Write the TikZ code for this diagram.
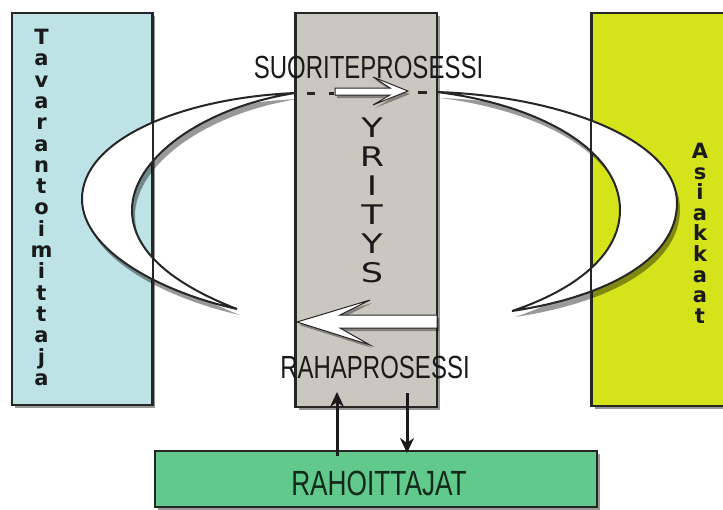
\documentclass[tikz,border=0pt]{standalone}
\usepackage{fontspec}
\setmainfont{Liberation Sans}
\newfontfamily\condfont[FakeStretch=0.75]{Liberation Sans}
\newfontfamily\vfont{DejaVu Sans Bold}
\newfontfamily\widefont[FakeStretch=1.3]{DejaVu Sans}
\usetikzlibrary{shadows,arrows.meta}

\definecolor{supcyan}{HTML}{BEE3E6}
\definecolor{compgray}{HTML}{C9C7C0}
\definecolor{custyel}{HTML}{D5E31B}
\definecolor{fingreen}{HTML}{62C98D}
\definecolor{edgedark}{HTML}{262626}
\definecolor{textdark}{HTML}{1A1A1A}
\definecolor{fintext}{HTML}{132A1A}

\begin{document}
\begin{tikzpicture}[x=1pt,y=-1pt,
  panel/.style={draw=edgedark, line width=1.6pt, inner sep=0pt,
    drop shadow={shadow xshift=3pt, shadow yshift=-3pt, opacity=0.4, fill=black}},
  paneledge/.style={draw=edgedark, line width=1.6pt},
  crescent/.style={fill=white, draw=edgedark, line width=2pt,
    drop shadow={shadow xshift=3pt, shadow yshift=-6pt, opacity=0.4, fill=black}},
  whitearrow/.style={fill=white, draw=edgedark, line width=1pt, line join=miter,
    drop shadow={shadow xshift=2pt, shadow yshift=-3pt, opacity=0.35, fill=black}},
  proclabel/.style={font=\condfont\fontsize{32}{32}\selectfont, inner sep=0pt, anchor=base, text=textdark},
  vtext/.style={font=\vfont\fontsize{21}{21.3}\selectfont, align=center, inner sep=0pt, anchor=north, text=textdark},
  flow/.style={draw=textdark, line width=3pt, -{Stealth[length=15pt,width=14pt]}},
  dashline/.style={draw=edgedark, line width=3pt}
]
\useasboundingbox (0,0) rectangle (723,509);

% boxes
\node[panel, fill=supcyan, minimum width=140pt, minimum height=392pt] (sup) at (82,209) {};
\node[panel, fill=compgray, minimum width=141pt, minimum height=394pt] (comp) at (366.5,210) {};
\node[panel, fill=custyel, minimum width=140pt, minimum height=393pt] (cust) at (662,209.5) {};
\node[panel, fill=fingreen, minimum width=442pt, minimum height=56pt] (fin) at (376,479) {};

% crescents
\path[crescent] (295,93) .. controls (180,98) and (82,140) .. (82,199)
  .. controls (82,250) and (160,292) .. (237,309)
  .. controls (175,285) and (132,252) .. (132,210)
  .. controls (132,160) and (200,108) .. (295,93) -- cycle;
\path[crescent] (437,92) .. controls (560,96) and (677,140) .. (677,203)
  .. controls (677,262) and (600,298) .. (512,311)
  .. controls (575,290) and (620,255) .. (620,210)
  .. controls (620,150) and (540,105) .. (437,92) -- cycle;

% box edges that show through the crescents
\draw[paneledge] (sup.north east) -- (sup.south east);
\draw[paneledge] (cust.north west) -- (cust.south west);
\draw[paneledge] (comp.north west) -- (comp.south west);

% dashes at the top
\coordinate (dl1a) at (307,93); \coordinate (dl1b) at (315,93);
\coordinate (dl2a) at (329,93); \coordinate (dl2b) at (334,93);
\coordinate (dr1a) at (418,92); \coordinate (dr1b) at (427,92);
\draw[dashline] (dl1a) -- (dl1b);
\draw[dashline] (dl2a) -- (dl2b);
\draw[dashline] (dr1a) -- (dr1b);

% white arrows
\path[whitearrow] (335,88) -- (390,88) -- (373,77) -- (408,91) -- (373,105) -- (390,95) -- (335,95) -- cycle;
\path[whitearrow] (297,322) -- (370,300) -- (340,315) -- (437,315) -- (437,328) -- (340,328) -- (370,345) -- cycle;

% texts
\node[proclabel] (suor) at (368.5,78) {SUORITEPROSESSI};
\node[proclabel] (raha) at (375,378) {RAHAPROSESSI};
\node[proclabel, font=\condfont\fontsize{35}{35}\selectfont, text=fintext] (rahoit) at (379,495) {RAHOITTAJAT};

\node[vtext] (suptext) at (41.5,29) {T\\a\\v\\a\\r\\a\\n\\t\\o\\i\\m\\i\\t\\t\\a\\j\\a};
\node[vtext, font=\vfont\fontsize{21}{20.6}\selectfont] (custtext) at (700,143) {A\\s\\i\\a\\k\\k\\a\\a\\t};
\node[vtext, font=\widefont\fontsize{27}{29}\selectfont] (comptext) at (372,118) {Y\\R\\I\\T\\Y\\S};

% money flows
\coordinate (upS) at (337,456);
\coordinate (upE) at (337,392);
\coordinate (dnS) at (407,393);
\coordinate (dnE) at (407,453);
\draw[flow] (upS) -- (upE);
\draw[flow] (dnS) -- (dnE);
\end{tikzpicture}
\end{document}
